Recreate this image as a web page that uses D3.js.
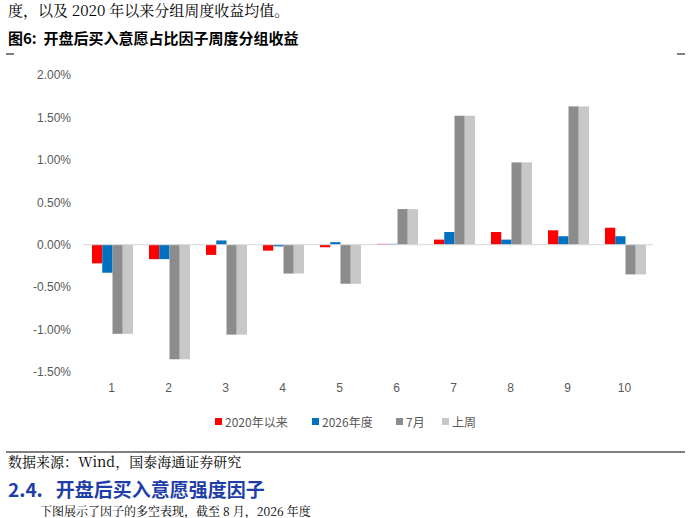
<!DOCTYPE html><html><head><meta charset="utf-8"><script src="https://cdn.jsdelivr.net/npm/d3@7"></script>
<style>body{margin:0;background:#fff} text{white-space:pre}</style></head><body><svg id="c" width="691" height="518"></svg>
<script>
const categories=["1","2","3","4","5","6","7","8","9","10"];
const seriesNames=["2020年以来","2026年度","7月","上周"];
const since2020=[-0.22,-0.17,-0.12,-0.07,-0.03,0.01,0.06,0.15,0.17,0.20];
const year2026=[-0.33,-0.17,0.05,-0.02,0.03,0.01,0.15,0.06,0.10,0.10];
const july=[-1.05,-1.35,-1.06,-0.34,-0.46,0.42,1.52,0.97,1.63,-0.35];
const lastWeek=[-1.05,-1.35,-1.06,-0.34,-0.46,0.42,1.52,0.97,1.63,-0.35];
const tickVals=[-1.5,-1,-0.5,0,0.5,1,1.5,2];
const colors=["#ff0000","#0070c0","#8c8c8c","#c8c8c8"];
const svg=d3.select("#c");
const f="'Noto Sans CJK SC',sans-serif";
svg.append("text").attr("x",8).attr("y",16).attr("font-family","'Noto Serif CJK SC','Noto Sans CJK SC',serif").attr("font-size",15).text("度，以及 2020 年以来分组周度收益均值。");
svg.append("text").attr("x",8).attr("y",44).attr("font-family",f).attr("font-weight","bold").attr("font-size",15).text("图6:  开盘后买入意愿占比因子周度分组收益");
svg.append("line").attr("x1",6).attr("x2",14).attr("y1",54).attr("y2",54).attr("stroke","#000");
svg.append("line").attr("x1",677).attr("x2",685).attr("y1",54).attr("y2",54).attr("stroke","#000");
const y=d3.scaleLinear().domain([-1.5,2]).range([372,75]);
const x=d3.scaleBand().domain(categories).range([83,653]);
const x1=d3.scaleBand().domain(d3.range(4)).range([9,50]).padding(0);
const ax=svg.append("g").attr("transform","translate(83,0)").call(d3.axisLeft(y).tickValues(tickVals).tickSize(0).tickPadding(12).tickFormat(d=>d.toFixed(2)+"%"));
ax.select(".domain").remove();
ax.selectAll("text").attr("font-family","Liberation Sans,Arial").attr("font-size",12).attr("fill","#595959");
const data=[since2020,year2026,july,lastWeek];
data.forEach((s,i)=>{svg.append("g").selectAll("rect").data(s).join("rect")
.attr("x",(d,j)=>x(categories[j])+x1(i)).attr("width",x1.bandwidth())
.attr("y",d=>y(Math.max(0,d))).attr("height",d=>Math.abs(y(d)-y(0))).attr("fill",colors[i]);});
svg.append("line").attr("x1",83).attr("x2",653).attr("y1",y(0)).attr("y2",y(0)).attr("stroke","#d9d9d9");
svg.append("g").selectAll("text").data(categories).join("text").attr("x",d=>x(d)+x.bandwidth()/2).attr("y",392).attr("text-anchor","middle").attr("font-family","Liberation Sans,Arial").attr("font-size",12).attr("fill","#595959").text(d=>d);
const lg=svg.append("g");
const lx=[215,312,396,442];
seriesNames.forEach((n,i)=>{lg.append("rect").attr("x",lx[i]).attr("y",418).attr("width",7).attr("height",7).attr("fill",colors[i]);
lg.append("text").attr("x",lx[i]+10).attr("y",427).attr("font-family",f).attr("font-size",12).attr("fill","#595959").text(n);});
svg.append("line").attr("x1",6).attr("x2",685).attr("y1",452).attr("y2",452).attr("stroke","#000");
svg.append("text").attr("x",8).attr("y",467).attr("font-family","'Noto Serif CJK SC','Noto Sans CJK SC',serif").attr("font-size",14).text("数据来源：Wind，国泰海通证券研究");
svg.append("text").attr("x",8).attr("y",497).attr("font-family",f).attr("font-weight","bold").attr("font-size",19).attr("fill","#1f3ea8").text("2.4.   开盘后买入意愿强度因子");
svg.append("text").attr("x",40).attr("y",516).attr("font-family","'Noto Serif CJK SC',serif").attr("font-size",12).text("下图展示了因子的多空表现，截至 8 月，2026 年度");
</script></body></html>
